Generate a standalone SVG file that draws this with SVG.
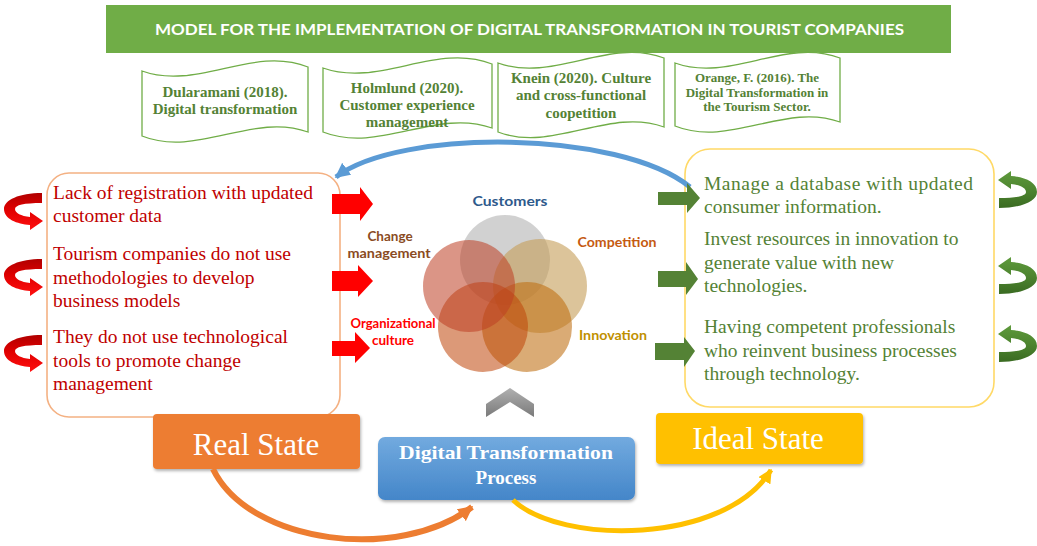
<svg xmlns="http://www.w3.org/2000/svg" width="1037" height="546" viewBox="0 0 1037 546">
  <style>
    .title { font-family: Lato, "Liberation Sans", sans-serif; font-weight: bold; font-size: 16px; fill: #ffffff; }
    .ref { fill: #ffffff; stroke: #70AD47; stroke-width: 1.3; }
    .reftxt { font-family: "Liberation Serif", serif; font-weight: bold; font-size: 15px; fill: #548235; text-anchor: middle; }
    .reftxt-s { font-size: 13px; }
    .realtxt { font-family: "Liberation Serif", serif; font-size: 19.5px; fill: #C00000; }
    .idealtxt { font-family: "Liberation Serif", serif; font-size: 19.5px; fill: #548235; }
    .venn { font-family: Lato, "Liberation Sans", sans-serif; font-weight: bold; font-size: 13.5px; text-anchor: middle; }
    .state { font-family: "Liberation Serif", serif; font-size: 31px; fill: #ffffff; text-anchor: middle; }
    .dtp { font-family: "Liberation Serif", serif; font-weight: bold; font-size: 19px; fill: #ffffff; text-anchor: middle; }
    .redarrow { fill: #FF0000; }
    .greenarrow { fill: #548235; }
  </style>
  <defs>
    <linearGradient id="gRedCurl" x1="0" y1="0" x2="0" y2="1">
      <stop offset="0" stop-color="#B00000"/>
      <stop offset="0.45" stop-color="#E00000"/>
      <stop offset="1" stop-color="#FF1010"/>
    </linearGradient>
    <linearGradient id="gGreenCurl" x1="0" y1="0" x2="0" y2="1">
      <stop offset="0" stop-color="#3A6B22"/>
      <stop offset="0.5" stop-color="#4E8530"/>
      <stop offset="1" stop-color="#5E9A3C"/>
    </linearGradient>
    <linearGradient id="gBlueBox" x1="0" y1="0" x2="0" y2="1">
      <stop offset="0" stop-color="#72AADF"/>
      <stop offset="1" stop-color="#4486C9"/>
    </linearGradient>
    <linearGradient id="gChevron" x1="0" y1="0" x2="0" y2="1">
      <stop offset="0" stop-color="#B0B0B0"/>
      <stop offset="1" stop-color="#7A7A7A"/>
    </linearGradient>
    <filter id="shadow" x="-10%" y="-10%" width="130%" height="140%">
      <feDropShadow dx="1" dy="2" stdDeviation="1.5" flood-color="#000000" flood-opacity="0.3"/>
    </filter>
    <filter id="soft" x="-20%" y="-20%" width="140%" height="140%">
      <feGaussianBlur stdDeviation="0.7"/>
    </filter>
    <marker id="ahBlue" viewBox="0 0 10 10" refX="9" refY="5" markerWidth="15" markerHeight="15" markerUnits="userSpaceOnUse" orient="auto">
      <path d="M0,0 L10,5 L0,10 z" fill="#5B9BD5"/>
    </marker>
    <marker id="ahOrange" viewBox="0 0 10 10" refX="9" refY="5" markerWidth="15" markerHeight="15" markerUnits="userSpaceOnUse" orient="auto">
      <path d="M0,0 L10,5 L0,10 z" fill="#ED7D31"/>
    </marker>
    <marker id="ahYellow" viewBox="0 0 10 10" refX="9" refY="5" markerWidth="14" markerHeight="14" markerUnits="userSpaceOnUse" orient="auto">
      <path d="M0,0 L10,5 L0,10 z" fill="#FFC000"/>
    </marker>
    <!-- U-turn arrow: thick band at top right, curls left, head points right -->
    <path id="curl" d="M42,0 C19,0 4,7 4,16 C4,26 17,31 30,32 L30,37 L43,28 L30,19 L30,24 C21,23 15,20 15,16 C15,12 24,10 42,10 Z"/>
  </defs>

  <rect width="1037" height="546" fill="#ffffff"/>

  <!-- title banner -->
  <g id="title">
    <rect x="106" y="5" width="845" height="48" fill="#70AD47"/>
    <text class="title" x="155" y="35" textLength="749" lengthAdjust="spacingAndGlyphs">MODEL FOR THE IMPLEMENTATION OF DIGITAL TRANSFORMATION IN TOURIST COMPANIES</text>
  </g>

  <!-- reference banners -->
  <g id="ref-dularamani">
    <path class="ref" d="M142,71 C197,91 253,45 308,67 L308,132 C253,112 197,158 142,136 Z"/>
    <text class="reftxt" x="225" y="97">Dularamani (2018).</text>
    <text class="reftxt" x="225" y="114">Digital transformation</text>
  </g>
  <g id="ref-holmlund">
    <path class="ref" d="M323,68 C379,88 436,42 492,64 L492,128 C436,108 379,154 323,132 Z"/>
    <text class="reftxt" x="407" y="93">Holmlund (2020).</text>
    <text class="reftxt" x="407" y="110">Customer experience</text>
    <text class="reftxt" x="407" y="127">management</text>
  </g>
  <g id="ref-knein">
    <path class="ref" d="M498,63 C553,83 609,37 664,58 L664,127 C609,107 553,153 498,132 Z"/>
    <text class="reftxt" x="581" y="83">Knein (2020). Culture</text>
    <text class="reftxt" x="581" y="100">and cross-functional</text>
    <text class="reftxt" x="581" y="118">coopetition</text>
  </g>
  <g id="ref-orange">
    <path class="ref" d="M675,63 C730,83 785,37 840,58 L840,122 C785,102 730,148 675,126 Z"/>
    <text class="reftxt reftxt-s" x="757" y="82">Orange, F. (2016). The</text>
    <text class="reftxt reftxt-s" x="757" y="97">Digital Transformation in</text>
    <text class="reftxt reftxt-s" x="757" y="111">the Tourism Sector.</text>
  </g>

  <!-- current situation box -->
  <g id="real-issues">
    <rect x="47" y="173" width="293" height="244" rx="22" fill="#ffffff" stroke="#F4B183" stroke-width="1.6"/>
    <text class="realtxt" x="53" y="199">Lack of registration with updated</text>
    <text class="realtxt" x="53" y="222">customer data</text>
    <text class="realtxt" x="53" y="260">Tourism companies do not use</text>
    <text class="realtxt" x="53" y="284">methodologies to develop</text>
    <text class="realtxt" x="53" y="307">business models</text>
    <text class="realtxt" x="53" y="343">They do not use technological</text>
    <text class="realtxt" x="53" y="367">tools to promote change</text>
    <text class="realtxt" x="53" y="390">management</text>
  </g>

  <!-- target situation box -->
  <g id="ideal-actions">
    <rect x="685" y="149" width="309" height="258" rx="25" fill="#ffffff" stroke="#FFD966" stroke-width="1.6"/>
    <text class="idealtxt" x="704" y="190" textLength="269" lengthAdjust="spacing">Manage a database with updated</text>
    <text class="idealtxt" x="704" y="213">consumer information.</text>
    <text class="idealtxt" x="704" y="245">Invest resources in innovation to</text>
    <text class="idealtxt" x="704" y="269">generate value with new</text>
    <text class="idealtxt" x="704" y="292">technologies.</text>
    <text class="idealtxt" x="704" y="333">Having competent professionals</text>
    <text class="idealtxt" x="704" y="357">who reinvent business processes</text>
    <text class="idealtxt" x="704" y="380">through technology.</text>
  </g>

  <!-- five-way venn of transformation drivers -->
  <g id="venn">
    <circle cx="505" cy="260" r="45" fill="#B4B4B4" opacity="0.62"/>
    <circle cx="540" cy="286" r="47" fill="#C59D57" opacity="0.6"/>
    <circle cx="527" cy="327" r="45" fill="#C06E11" opacity="0.58"/>
    <circle cx="483" cy="327" r="45" fill="#C0460A" opacity="0.55"/>
    <circle cx="469" cy="286" r="46" fill="#BE3E23" opacity="0.55"/>
    <text class="venn" x="510" y="206" fill="#2E5A8C" textLength="75" lengthAdjust="spacingAndGlyphs">Customers</text>
    <text class="venn" x="390" y="241" fill="#8A4B22" font-size="12.5">Change</text>
    <text class="venn" x="389" y="258" fill="#8A4B22" textLength="83" lengthAdjust="spacingAndGlyphs" font-size="12.5">management</text>
    <text class="venn" x="617" y="247" fill="#C55A11" textLength="79" lengthAdjust="spacingAndGlyphs" font-size="12.5">Competition</text>
    <text class="venn" x="393" y="328" fill="#FF0000" textLength="85" lengthAdjust="spacingAndGlyphs" font-size="12.5">Organizational</text>
    <text class="venn" x="393" y="345" fill="#FF0000" font-size="12.5">culture</text>
    <text class="venn" x="613" y="340" fill="#BF9000" textLength="68" lengthAdjust="spacingAndGlyphs" font-size="12.5">Innovation</text>
  </g>

  <!-- state labels -->
  <g id="real-state">
    <rect x="153" y="414" width="207" height="55" rx="4" fill="#ED7D31" filter="url(#shadow)"/>
    <text class="state" x="256" y="455">Real State</text>
  </g>
  <g id="ideal-state">
    <rect x="656" y="413" width="207" height="51" rx="4" fill="#FFC000" filter="url(#shadow)"/>
    <text class="state" x="758" y="449">Ideal State</text>
  </g>
  <g id="process">
    <rect x="378" y="437" width="257" height="63" rx="7" fill="url(#gBlueBox)" filter="url(#shadow)"/>
    <text class="dtp" x="506" y="459" textLength="214" lengthAdjust="spacingAndGlyphs">Digital Transformation</text>
    <text class="dtp" x="506" y="484">Process</text>
  </g>

  <!-- connectors -->
  <g id="connectors">
    <!-- feedback from the target state back to the current state -->
    <path d="M690,187 C620,130 400,128 336,177" fill="none" stroke="#5B9BD5" stroke-width="5" marker-end="url(#ahBlue)"/>
    <!-- current state into the process -->
    <path d="M213,469 C250,545 400,562 472,507" fill="none" stroke="#ED7D31" stroke-width="6" marker-end="url(#ahOrange)"/>
    <!-- process out to the target state -->
    <path d="M513,500 C560,545 725,545 771,470" fill="none" stroke="#FFC000" stroke-width="5" marker-end="url(#ahYellow)"/>

    <!-- upward chevron under the venn -->
    <polygon points="486,417 486,404 510,388 534,404 534,417 510,402" fill="url(#gChevron)" filter="url(#soft)"/>

    <!-- red block arrows -->
    <polygon class="redarrow" points="332,194 360,194 360,187 373,204 360,221 360,214 332,214"/>
    <polygon class="redarrow" points="332,271 358,271 358,265 373,281 358,297 358,291 332,291"/>
    <polygon class="redarrow" points="332,341 355,341 355,332 370,348 355,363 355,356 332,356"/>

    <!-- green block arrows -->
    <polygon class="greenarrow" points="658,192 687,192 687,183 700,198 687,213 687,205 658,205"/>
    <polygon class="greenarrow" points="658,271 686,271 686,262 698,279 686,295 686,287 658,287"/>
    <polygon class="greenarrow" points="655,343 684,343 684,337 695,351 684,367 684,360 655,360"/>

    <!-- red U-turn arrows -->
    <use href="#curl" transform="translate(0,193)" fill="url(#gRedCurl)"/>
    <use href="#curl" transform="translate(0,259)" fill="url(#gRedCurl)"/>
    <use href="#curl" transform="translate(0,335)" fill="url(#gRedCurl)"/>

    <!-- green U-turn arrows -->
    <use href="#curl" transform="translate(1041,208) scale(-1,-1)" fill="url(#gGreenCurl)"/>
    <use href="#curl" transform="translate(1041,294) scale(-1,-1)" fill="url(#gGreenCurl)"/>
    <use href="#curl" transform="translate(1041,362) scale(-1,-1)" fill="url(#gGreenCurl)"/>
  </g>
</svg>
